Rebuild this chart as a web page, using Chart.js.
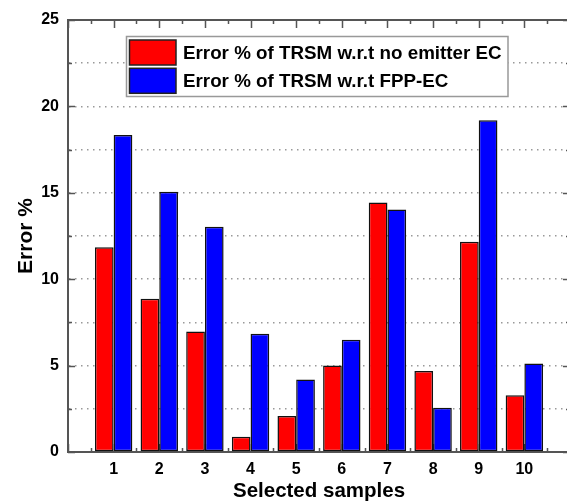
<!DOCTYPE html>
<html><head><meta charset="utf-8">
<script src="https://cdn.jsdelivr.net/npm/chart.js@4/dist/chart.umd.min.js"></script>
<style>
html,body{margin:0;padding:0;overflow:hidden;background:#fff;width:567px;height:504px}
#wrap{position:relative;width:572px;height:504px}
</style></head>
<body><div id="wrap"><canvas id="c" width="572" height="504"></canvas></div>
<script>
const categories = ['1','2','3','4','5','6','7','8','9','10'];
const seriesNames = ['Error % of TRSM w.r.t no emitter EC', 'Error % of TRSM w.r.t FPP-EC'];
const errNoEmitter = [11.85, 8.87, 6.98, 0.88, 2.08, 5.0, 14.44, 4.69, 12.17, 3.29];
const errFPP = [18.35, 15.06, 13.04, 6.85, 4.19, 6.5, 14.04, 2.56, 19.2, 5.12];
const yTickLabels = [0, 5, 10, 15, 20, 25];
const xTitle = 'Selected samples';
const yTitle = 'Error %';

const FONT = "'Liberation Sans', Arial, sans-serif";
const AXIS = '#555';

const toPoints = arr => arr.map((v, i) => ({x: Number(categories[i]), y: v}));

const frame = {
  id: 'frame',
  beforeDatasetsDraw(chart) {
    const {ctx, chartArea: a, scales: {x, y}} = chart;
    ctx.save();
    ctx.strokeStyle = AXIS;
    ctx.lineWidth = 1.5;
    ctx.beginPath();
    for (let v = 0; v <= 25.001; v += 2.5) {
      const py = Math.round(y.getPixelForValue(v)) + 0.5;
      const len = (v % 5 === 0) ? 7 : 4;
      ctx.moveTo(a.left, py); ctx.lineTo(a.left + len, py);
      ctx.moveTo(a.right, py); ctx.lineTo(a.right - len, py);
    }
    for (let v = 0; v <= 11.001; v += 0.5) {
      const px = Math.round(x.getPixelForValue(v)) + 0.5;
      const len = (v % 1 === 0) ? 8 : 4;
      ctx.moveTo(px, a.top); ctx.lineTo(px, a.top + len);
      ctx.moveTo(px, a.bottom); ctx.lineTo(px, a.bottom - len);
    }
    ctx.stroke();
    ctx.restore();
  },
  afterDraw(chart) {
    const {ctx, chartArea: a} = chart;
    ctx.save();
    ctx.strokeStyle = AXIS;
    ctx.lineWidth = 2;
    ctx.beginPath();
    ctx.moveTo(a.left, a.top); ctx.lineTo(a.right, a.top); ctx.lineTo(a.right, a.bottom);
    ctx.stroke();
    // legend box
    const bx = 126.5, by = 36.5, bw = 381.5, bh = 60;
    ctx.fillStyle = '#fff';
    ctx.fillRect(bx, by, bw, bh);
    ctx.strokeStyle = '#999';
    ctx.lineWidth = 1.5;
    ctx.strokeRect(bx, by, bw, bh);
    const ds = chart.data.datasets;
    const rowTop = [40, 68.3];
    ds.forEach((d, i) => {
      ctx.fillStyle = d.backgroundColor;
      ctx.fillRect(129.5, rowTop[i], 46.5, 25);
      ctx.strokeStyle = '#222';
      ctx.lineWidth = 1.5;
      ctx.strokeRect(129.5, rowTop[i], 46.5, 25);
      ctx.fillStyle = '#000';
      ctx.font = "bold 18.8px " + FONT;
      ctx.textBaseline = 'middle';
      ctx.textAlign = 'left';
      ctx.fillText(d.label, 183, rowTop[i] + 13.5);
    });
    ctx.restore();
  }
};

new Chart(document.getElementById('c'), {
  type: 'bar',
  data: {
    datasets: [
      {label: seriesNames[0], data: toPoints(errNoEmitter), backgroundColor: '#ff0000', borderColor: '#111', borderWidth: 1.5, borderSkipped: false},
      {label: seriesNames[1], data: toPoints(errFPP), backgroundColor: '#0000ff', borderColor: '#111', borderWidth: 1.5, borderSkipped: false}
    ]
  },
  options: {
    responsive: false,
    animation: false,
    devicePixelRatio: 1,
    layout: {padding: {top: 20, right: 2, left: 0, bottom: 0}},
    datasets: {bar: {categoryPercentage: 0.82, barPercentage: 1.0}},
    plugins: {legend: {display: false}, tooltip: {enabled: false}},
    scales: {
      x: {
        type: 'linear', min: 0, max: 11, offset: false,
        afterFit: s => { s.height = 52; },
        afterBuildTicks: s => { s.ticks = categories.map(c => ({value: Number(c)})); },
        ticks: {
          autoSkip: false, maxRotation: 0, padding: 8,
          color: '#000', font: {family: FONT, weight: 'bold', size: 16},
          callback: (v) => categories[v - 1] ?? ''
        },
        grid: {display: false, drawTicks: false, offset: false},
        border: {display: true, color: AXIS, width: 2},
        title: {display: true, text: xTitle, color: '#000', font: {family: FONT, weight: 'bold', size: 20.5}, padding: {top: -4, bottom: 0}}
      },
      y: {
        min: 0, max: 25,
        afterFit: s => { s.width = 68; },
        ticks: {
          stepSize: 2.5, autoSkip: false, padding: 9,
          color: '#000', font: {family: FONT, weight: 'bold', size: 16},
          callback: (v) => yTickLabels.includes(v) ? String(v) : ''
        },
        grid: {drawTicks: false, color: '#999', lineWidth: 1.5},
        border: {display: true, color: AXIS, width: 2, dash: [1.5, 4.5]},
        title: {display: true, text: yTitle, color: '#000', font: {family: FONT, weight: 'bold', size: 21}, padding: {top: 14, bottom: 0}}
      }
    }
  },
  plugins: [frame]
});
</script>
</body></html>
